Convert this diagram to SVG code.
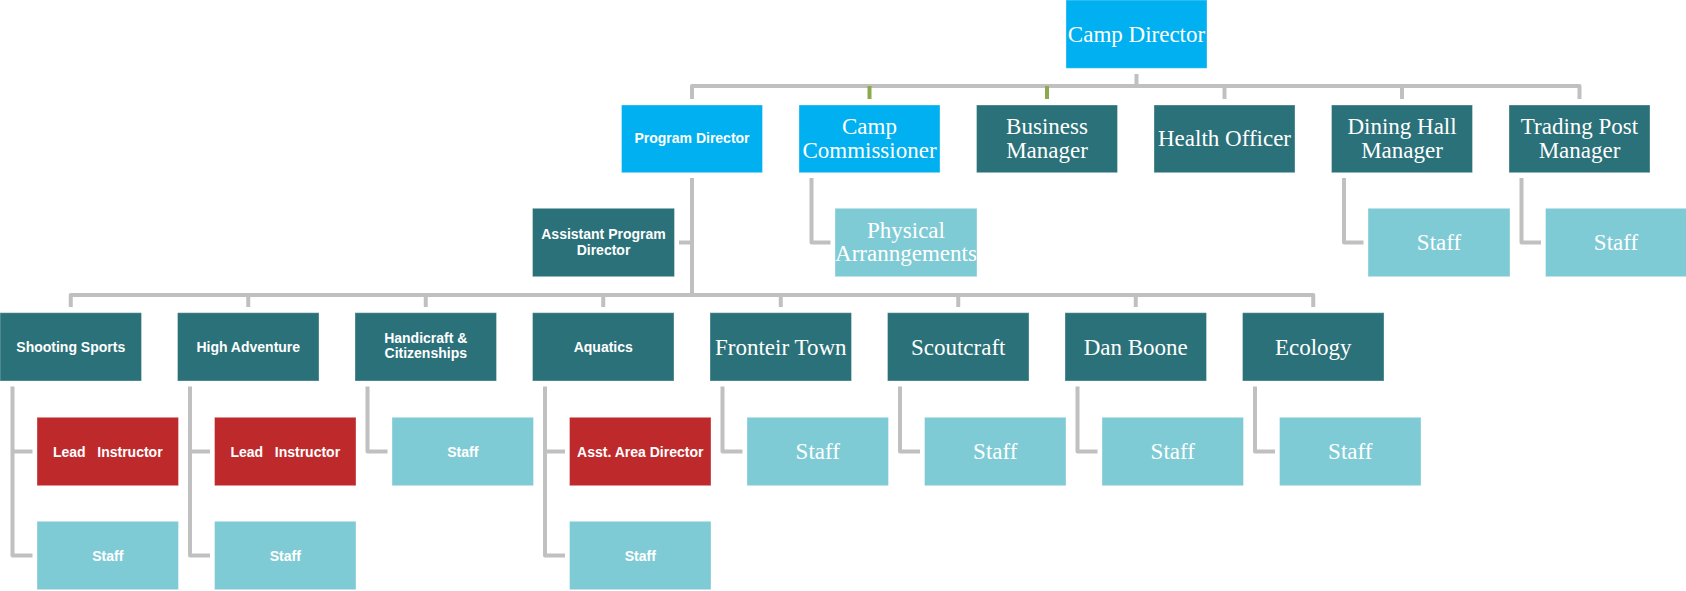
<svg xmlns="http://www.w3.org/2000/svg" width="1686" height="591" viewBox="0 0 1686 591">
  <defs>
    <style>
      rect { stroke: #ffffff; stroke-opacity: 0.35; stroke-width: 1; }
      .blue { fill: #00B0F0; }
      .teal { fill: #2A7179; }
      .light { fill: #7FCBD5; }
      .red { fill: #BE2A2C; }
      text { fill: #ffffff; text-anchor: middle; }
      .sans { font-family: "Liberation Sans", Arial, sans-serif; font-weight: bold; font-size: 14px; }
      .serif { font-family: "Liberation Serif", "Times New Roman", serif; font-size: 23px; }
      .link { fill: none; stroke: #C0C0C0; stroke-width: 4; stroke-linejoin: round; }
      .link-green { fill: none; stroke: #8DA94E; stroke-width: 4; }
    </style>
  </defs>
  <rect x="0" y="0" width="1686" height="591" fill="#ffffff" stroke="none"/>

  <!-- connectors -->
  <g id="connectors">
    <!-- director to department heads -->
    <path class="link" d="M1136.5 74 V86"/>
    <path class="link" d="M692 99 V86 H1579.5 V99"/>
    <path class="link" d="M1224.5 86 V99"/>
    <path class="link" d="M1402 86 V99"/>
    <path class="link-green" d="M869.5 86 V99"/>
    <path class="link-green" d="M1047 86 V99"/>
    <!-- department heads to their assistants / staff -->
    <path class="link" d="M692 178 V295"/>
    <path class="link" d="M679 242.5 H692"/>
    <path class="link" d="M811.5 178 V242.5 H830.5"/>
    <path class="link" d="M1344 178 V242.5 H1363.5"/>
    <path class="link" d="M1521.5 178 V242.5 H1541"/>
    <!-- program areas bus -->
    <path class="link" d="M70.75 307 V295 H1313.25 V307"/>
    <path class="link" d="M248.25 295 V307"/>
    <path class="link" d="M425.75 295 V307"/>
    <path class="link" d="M603.25 295 V307"/>
    <path class="link" d="M780.75 295 V307"/>
    <path class="link" d="M958.25 295 V307"/>
    <path class="link" d="M1135.75 295 V307"/>
    <!-- program areas to their staff -->
    <path class="link" d="M12.5 386.5 V555.5 H32.5 M12.5 451.5 H32.5"/>
    <path class="link" d="M190 386.5 V555.5 H210 M190 451.5 H210"/>
    <path class="link" d="M367.5 386.5 V451.5 H387.5"/>
    <path class="link" d="M545 386.5 V555.5 H565 M545 451.5 H565"/>
    <path class="link" d="M722.5 386.5 V451.5 H742.5"/>
    <path class="link" d="M900 386.5 V451.5 H920"/>
    <path class="link" d="M1077.5 386.5 V451.5 H1097.5"/>
    <path class="link" d="M1255 386.5 V451.5 H1275"/>
  </g>

  <!-- top -->
  <g id="camp-director">
    <rect class="blue" x="1066" y="0" width="141" height="68.3"/>
    <text class="serif" x="1136.5" y="42">Camp Director</text>
  </g>

  <!-- department heads -->
  <g id="program-director">
    <rect class="blue" x="621.5" y="105" width="141" height="67.7"/>
    <text class="sans" x="692" y="142.5">Program Director</text>
  </g>
  <g id="camp-commissioner">
    <rect class="blue" x="799" y="105" width="141" height="67.7"/>
    <text class="serif" x="869.5" y="134">Camp</text>
    <text class="serif" x="869.5" y="157.5">Commissioner</text>
  </g>
  <g id="business-manager">
    <rect class="teal" x="976.5" y="105" width="141" height="67.7"/>
    <text class="serif" x="1047" y="134">Business</text>
    <text class="serif" x="1047" y="157.5">Manager</text>
  </g>
  <g id="health-officer">
    <rect class="teal" x="1154" y="105" width="141" height="67.7"/>
    <text class="serif" x="1224.5" y="146">Health Officer</text>
  </g>
  <g id="dining-hall-manager">
    <rect class="teal" x="1331.5" y="105" width="141" height="67.7"/>
    <text class="serif" x="1402" y="134">Dining Hall</text>
    <text class="serif" x="1402" y="157.5">Manager</text>
  </g>
  <g id="trading-post-manager">
    <rect class="teal" x="1509" y="105" width="141" height="67.7"/>
    <text class="serif" x="1579.5" y="134">Trading Post</text>
    <text class="serif" x="1579.5" y="157.5">Manager</text>
  </g>

  <!-- second tier -->
  <g id="assistant-program-director">
    <rect class="teal" x="532.5" y="208.3" width="142" height="68.4"/>
    <text class="sans" x="603.5" y="239">Assistant Program</text>
    <text class="sans" x="603.5" y="254.5">Director</text>
  </g>
  <g id="physical-arrangements">
    <rect class="light" x="835" y="208.3" width="142" height="68.4"/>
    <text class="serif" x="906" y="237.7">Physical</text>
    <text class="serif" x="906" y="261.2">Arranngements</text>
  </g>
  <g id="dining-hall-staff">
    <rect class="light" x="1368" y="208.3" width="142" height="68.4"/>
    <text class="serif" x="1439" y="250.2">Staff</text>
  </g>
  <g id="trading-post-staff">
    <rect class="light" x="1545.5" y="208.3" width="141" height="68.4"/>
    <text class="serif" x="1616" y="250.2">Staff</text>
  </g>

  <!-- program areas -->
  <g id="shooting-sports">
    <rect class="teal" x="0" y="312.7" width="141.5" height="68.3"/>
    <text class="sans" x="70.75" y="351.8">Shooting Sports</text>
  </g>
  <g id="high-adventure">
    <rect class="teal" x="177.5" y="312.7" width="141.5" height="68.3"/>
    <text class="sans" x="248.25" y="351.8">High Adventure</text>
  </g>
  <g id="handicraft-citizenships">
    <rect class="teal" x="355" y="312.7" width="141.5" height="68.3"/>
    <text class="sans" x="425.75" y="343.3">Handicraft &amp;</text>
    <text class="sans" x="425.75" y="358.3">Citizenships</text>
  </g>
  <g id="aquatics">
    <rect class="teal" x="532.5" y="312.7" width="141.5" height="68.3"/>
    <text class="sans" x="603.25" y="351.8">Aquatics</text>
  </g>
  <g id="fronteir-town">
    <rect class="teal" x="710" y="312.7" width="141.5" height="68.3"/>
    <text class="serif" x="780.75" y="354.5">Fronteir Town</text>
  </g>
  <g id="scoutcraft">
    <rect class="teal" x="887.5" y="312.7" width="141.5" height="68.3"/>
    <text class="serif" x="958.25" y="354.5">Scoutcraft</text>
  </g>
  <g id="dan-boone">
    <rect class="teal" x="1065" y="312.7" width="141.5" height="68.3"/>
    <text class="serif" x="1135.75" y="354.5">Dan Boone</text>
  </g>
  <g id="ecology">
    <rect class="teal" x="1242.5" y="312.7" width="141.5" height="68.3"/>
    <text class="serif" x="1313.25" y="354.5">Ecology</text>
  </g>

  <!-- program area staff -->
  <g id="shooting-lead">
    <rect class="red" x="37" y="417.3" width="141.5" height="68.4"/>
    <text class="sans" x="107.75" y="456.5" xml:space="preserve">Lead   Instructor</text>
  </g>
  <g id="shooting-staff">
    <rect class="light" x="37" y="521.3" width="141.5" height="68.4"/>
    <text class="sans" x="107.75" y="560.5">Staff</text>
  </g>
  <g id="adventure-lead">
    <rect class="red" x="214.5" y="417.3" width="141.5" height="68.4"/>
    <text class="sans" x="285.25" y="456.5" xml:space="preserve">Lead   Instructor</text>
  </g>
  <g id="adventure-staff">
    <rect class="light" x="214.5" y="521.3" width="141.5" height="68.4"/>
    <text class="sans" x="285.25" y="560.5">Staff</text>
  </g>
  <g id="handicraft-staff">
    <rect class="light" x="392" y="417.3" width="141.5" height="68.4"/>
    <text class="sans" x="462.75" y="456.5">Staff</text>
  </g>
  <g id="aquatics-asst-director">
    <rect class="red" x="569.5" y="417.3" width="141.5" height="68.4"/>
    <text class="sans" x="640.25" y="456.5">Asst. Area Director</text>
  </g>
  <g id="aquatics-staff">
    <rect class="light" x="569.5" y="521.3" width="141.5" height="68.4"/>
    <text class="sans" x="640.25" y="560.5">Staff</text>
  </g>
  <g id="fronteir-staff">
    <rect class="light" x="747" y="417.3" width="141.5" height="68.4"/>
    <text class="serif" x="817.75" y="459.2">Staff</text>
  </g>
  <g id="scoutcraft-staff">
    <rect class="light" x="924.5" y="417.3" width="141.5" height="68.4"/>
    <text class="serif" x="995.25" y="459.2">Staff</text>
  </g>
  <g id="dan-boone-staff">
    <rect class="light" x="1102" y="417.3" width="141.5" height="68.4"/>
    <text class="serif" x="1172.75" y="459.2">Staff</text>
  </g>
  <g id="ecology-staff">
    <rect class="light" x="1279.5" y="417.3" width="141.5" height="68.4"/>
    <text class="serif" x="1350.25" y="459.2">Staff</text>
  </g>
</svg>
